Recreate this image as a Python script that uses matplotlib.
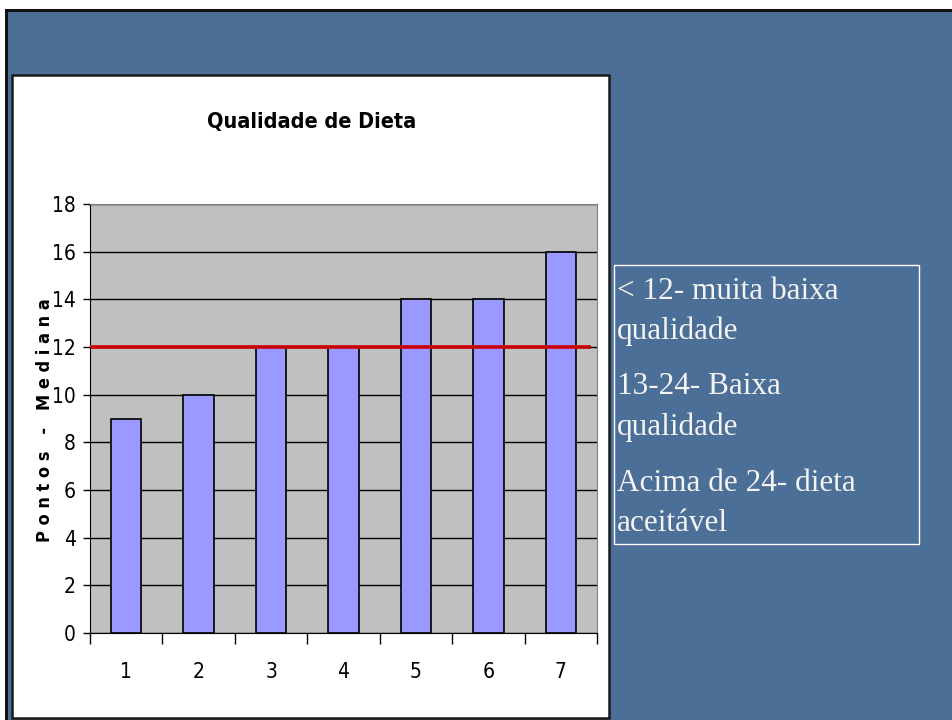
import matplotlib
matplotlib.use("Agg")
import matplotlib.pyplot as plt
from matplotlib.patches import Rectangle

# data
categories = ["1", "2", "3", "4", "5", "6", "7"]
medians = [9, 10, 12, 12, 14, 14, 16]
cutoff = 12
title = "Qualidade de Dieta"
ylabel = "P o n t o s   -   M e d i a n a"
notes = ["< 12- muita baixa", "qualidade",
         "13-24- Baixa", "qualidade",
         "Acima de 24- dieta", "aceitável"]
note_baselines = [299, 339, 394, 435, 491, 531]

W, H = 953, 720
fig = plt.figure(figsize=(W / 100, H / 100), dpi=100)
fig.patch.set_facecolor("white")

def px(x, y, w, h):
    # pixel box (top-left origin) -> figure fraction
    return (x / W, 1 - (y + h) / H, w / W, h / H)

def rect(x, y, w, h, z=-10, **kw):
    l, b, ww, hh = px(x, y, w, h)
    fig.patches.append(Rectangle((l, b), ww, hh, transform=fig.transFigure, zorder=z, **kw))

# slide background and border
rect(5, 9, W - 5, H - 9, facecolor="#4c6f97", edgecolor="none")
rect(5, 9, W - 5, 2.5, facecolor="#111111", edgecolor="none")
rect(5, 9, 3, H - 9, facecolor="#111111", edgecolor="none")
# white chart box
rect(12, 75, 597, 643, facecolor="white", edgecolor="#1a1a1a", linewidth=1.8)
# text box
rect(614, 265, 305, 279, z=5, facecolor="none", edgecolor="white", linewidth=1.0)

ax = fig.add_axes(px(90, 204, 507, 429))
ax.set_facecolor("#c0c0c0")
x = range(len(categories))
ax.bar(x, medians, width=0.42, color="#9999ff", edgecolor="black", linewidth=1.2, zorder=3)
ax.set_xlim(-0.5, len(categories) - 0.5)
ax.set_ylim(0, 18)
ax.set_yticks(range(0, 19, 2))
ax.yaxis.grid(True, color="black", linewidth=1.0, zorder=0)
ax.set_axisbelow(True)
ax.axhline(cutoff, xmin=0, xmax=0.985, color="#cc0000", linewidth=2.6, zorder=4)

ax.set_xticks(x)
ax.set_xticklabels(categories)
ax.set_xticks([i - 0.5 for i in range(len(categories) + 1)], minor=True)
ax.tick_params(axis="x", which="major", length=0, pad=21, labelsize=15)
ax.tick_params(axis="x", which="minor", length=8, width=1.0, direction="out")
ax.tick_params(axis="y", length=5, width=1.0, pad=5, labelsize=15)
for lab in ax.get_xticklabels() + ax.get_yticklabels():
    lab.set_family("DejaVu Sans")
    lab.set_stretch("condensed")

ax.spines["left"].set_color("black")
ax.spines["bottom"].set_color("black")
ax.spines["top"].set_color("#808080")
ax.spines["right"].set_color("#808080")

fig.text(312 / W, 1 - 128 / H, title, ha="center", va="baseline",
         fontsize=15.5, fontweight="bold", family="DejaVu Sans", stretch="condensed")
fig.text(45 / W, 1 - 420 / H, ylabel, ha="center", va="center", rotation=90,
         fontsize=13, fontweight="bold", family="DejaVu Sans", stretch="condensed")

for line, yb in zip(notes, note_baselines):
    fig.text(617 / W, 1 - yb / H, line, ha="left", va="baseline",
             fontsize=22.5, color="#f4f4f4", family="Liberation Serif")

fig.savefig("out.png", dpi=100)
